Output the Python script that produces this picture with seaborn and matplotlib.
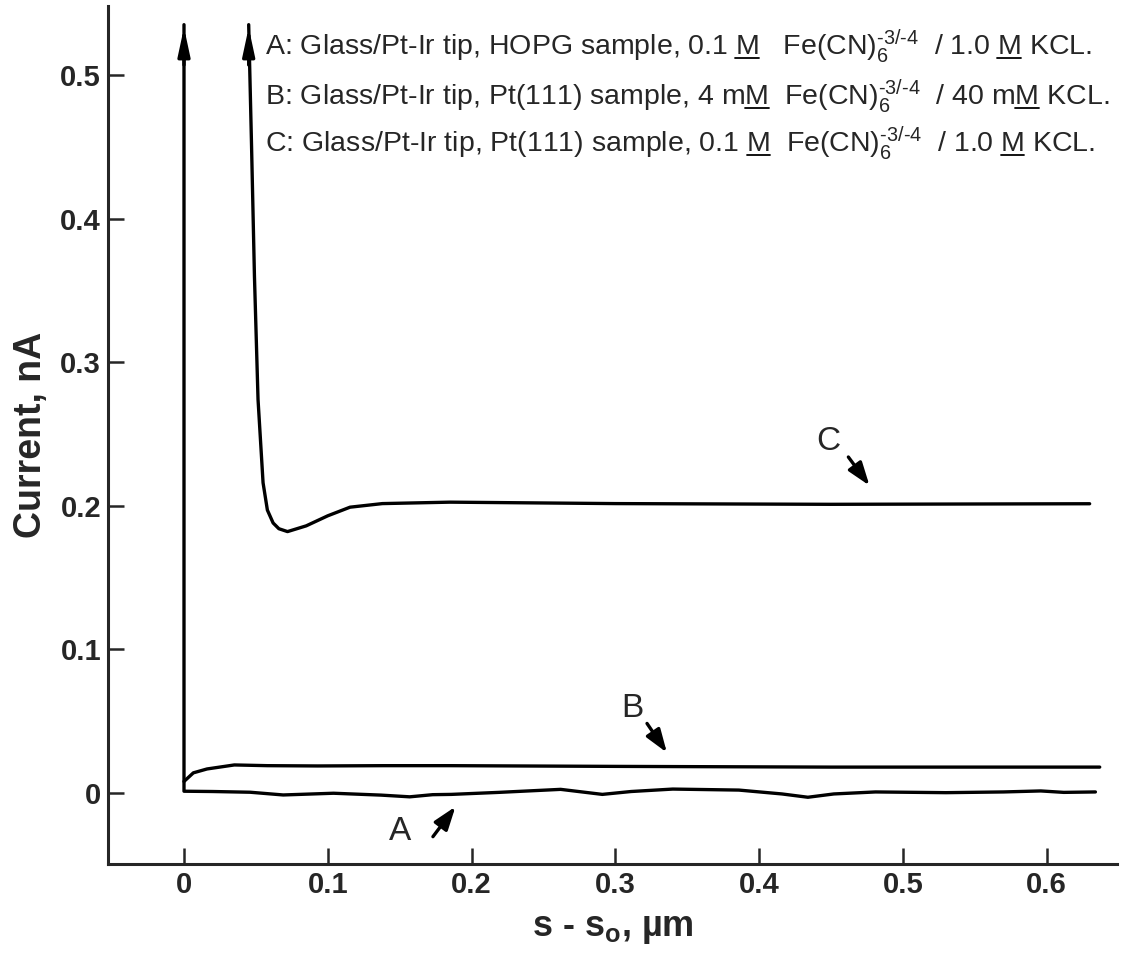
import matplotlib
matplotlib.use("Agg")
import matplotlib.pyplot as plt
import seaborn as sns
import pandas as pd
from matplotlib.lines import Line2D
from matplotlib import font_manager
from matplotlib.ft2font import FT2Font

# ---------------- data ----------------
a_x = [0.0, 0.0, 0.02, 0.046, 0.069, 0.104, 0.137, 0.157, 0.173, 0.186, 0.219,
       0.262, 0.291, 0.311, 0.340, 0.386, 0.416, 0.434, 0.452, 0.481, 0.530,
       0.570, 0.596, 0.612, 0.634]
a_y = [0.535, 0.0012, 0.001, 0.0005, -0.0014, -0.0002, -0.0015, -0.0027, -0.0012,
       -0.001, 0.0004, 0.0025, -0.001, 0.001, 0.0027, 0.002, -0.0007, -0.003,
       -0.0007, 0.0007, 0.0002, 0.0007, 0.0014, 0.0004, 0.0007]

b_x = [0.0, 0.0065, 0.016, 0.035, 0.058, 0.093, 0.139, 0.185, 0.30, 0.45, 0.637]
b_y = [0.008, 0.014, 0.0167, 0.0195, 0.019, 0.0188, 0.019, 0.019, 0.0185, 0.018, 0.018]

c_x = [0.045, 0.047, 0.049, 0.0515, 0.055, 0.058, 0.062, 0.066, 0.072, 0.085,
       0.100, 0.1155, 0.138, 0.185, 0.30, 0.45, 0.630]
c_y = [0.535, 0.45, 0.36, 0.274, 0.216, 0.197, 0.188, 0.184, 0.182, 0.186,
       0.193, 0.199, 0.2015, 0.2025, 0.2015, 0.201, 0.2014]

x_ticks = [0, 0.1, 0.2, 0.3, 0.4, 0.5, 0.6]
x_tick_labels = ["0", "0.1", "0.2", "0.3", "0.4", "0.5", "0.6"]
y_ticks = [0, 0.1, 0.2, 0.3, 0.4, 0.5]
y_tick_labels = ["0", "0.1", "0.2", "0.3", "0.4", "0.5"]

curve_labels = ["A", "B", "C"]
label_pos = [(0.150, -0.027), (0.312, 0.059), (0.448, 0.245)]
arrow_tail = [(0.172, -0.032), (0.321, 0.050), (0.461, 0.2355)]
arrow_tip = [(0.190, -0.008), (0.337, 0.0265), (0.478, 0.2125)]

# "§" marks an underlined M (molar); "{FE}" is the ferri/ferrocyanide formula
legend_templates = [
    "A: Glass/Pt-Ir tip, HOPG sample, 0.1 §   {FE}  / 1.0 § KCL.",
    "B: Glass/Pt-Ir tip, Pt(111) sample, 4 m§  {FE}  / 40 m§ KCL.",
    "C: Glass/Pt-Ir tip, Pt(111) sample, 0.1 §  {FE}  / 1.0 § KCL.",
]
legend_y = [0.5142, 0.4793, 0.4466]
legend_x = 0.0565

# ---------------- style ----------------
sns.set_style("ticks")
plt.rcParams["font.family"] = ["Liberation Sans", "DejaVu Sans"]
plt.rcParams["mathtext.fontset"] = "custom"
plt.rcParams["mathtext.rm"] = "Liberation Sans"
plt.rcParams["mathtext.it"] = "Liberation Sans"
plt.rcParams["mathtext.bf"] = "Liberation Sans:bold"


def _has_glyph(family, code):
    try:
        path = font_manager.findfont(family, fallback_to_default=False)
        return code in FT2Font(path).get_charmap()
    except Exception:
        return False


HY = "\u2010" if _has_glyph("Liberation Sans", 0x2010) else "-"
FE = "Fe(CN)$_{6}^{" + HY + "3/" + HY + "4}$"

fig = plt.figure(figsize=(11.21, 9.56), dpi=100)
ax = fig.add_axes([0.0963, 0.0962, 0.9001, 0.8975])

lw = 2.4
for xs, ys in [(a_x, a_y), (b_x, b_y), (c_x, c_y)]:
    df = pd.DataFrame({"x": xs, "y": ys})
    sns.lineplot(data=df, x="x", y="y", sort=False, estimator=None,
                 color="black", lw=lw, ax=ax)
    # arrow head at the top end of curves that run off scale
    if ys[0] > 0.3:
        ax.annotate("", xy=(xs[0], ys[0]), xytext=(xs[0], ys[0] - 0.03),
                    arrowprops=dict(arrowstyle="-|>,head_length=1.4,head_width=0.3",
                                    color="black", lw=lw, mutation_scale=12))

for lab, p, t, h in zip(curve_labels, label_pos, arrow_tail, arrow_tip):
    ax.text(p[0], p[1], lab, fontsize=24, ha="center", va="center")
    ax.annotate("", xy=h, xytext=t,
                arrowprops=dict(arrowstyle="-|>,head_length=1.0,head_width=0.35",
                                color="black", lw=2.4, mutation_scale=14))

ax.set_xlim(-0.0529, 0.649)
ax.set_ylim(-0.0495, 0.548)
ax.set_xticks(x_ticks)
ax.set_xticklabels(x_tick_labels, fontsize=21, fontweight="bold")
ax.set_yticks(y_ticks)
ax.set_yticklabels(y_tick_labels, fontsize=21, fontweight="bold")
ax.tick_params(direction="in", length=11.5, width=1.8, pad=5)
ax.set_xlabel(r"s - s$_\mathbf{o}$, µm", fontsize=26, fontweight="bold", labelpad=9)
ax.set_ylabel("Current, nA", fontsize=27, fontweight="bold", labelpad=8)
sns.despine(ax=ax)
for s in ["left", "bottom"]:
    ax.spines[s].set_linewidth(2.2)

# ---- legend text lines with underlined "M" ----
fs_leg = 20.5
line_artists = []
for tpl, yy in zip(legend_templates, legend_y):
    shown = tpl.replace("{FE}", FE).replace("§", "M")
    line_artists.append(ax.text(legend_x, yy, shown, fontsize=fs_leg,
                                ha="left", va="baseline"))

fig.canvas.draw()
renderer = fig.canvas.get_renderer()
inv = fig.transFigure.inverted()


def _width(s, yy):
    probe = ax.text(legend_x, yy, s, fontsize=fs_leg, ha="left", va="baseline")
    w = probe.get_window_extent(renderer).width
    probe.remove()
    return w


for tpl, yy, art in zip(legend_templates, legend_y, line_artists):
    full = tpl.replace("{FE}", FE)
    bb = art.get_window_extent(renderer)
    yb = ax.transData.transform((0, yy))[1]
    wm = _width("M", yy)
    idx = -1
    while True:
        idx = full.find("§", idx + 1)
        if idx < 0:
            break
        prefix = full[: idx + 1].replace("§", "M")
        suffix = full[idx + 1:].replace("§", "M")
        if "$" in prefix:
            x1 = bb.x0 + _width(prefix, yy)
        else:
            x1 = bb.x1 - _width(suffix, yy)
        x0 = x1 - wm
        (fx0, fy), (fx1, _) = inv.transform([(x0, yb - 3.5), (x1, yb - 3.5)])
        fig.add_artist(Line2D([fx0, fx1], [fy, fy], color="black", lw=1.3))

fig.savefig("out.png", dpi=100)
